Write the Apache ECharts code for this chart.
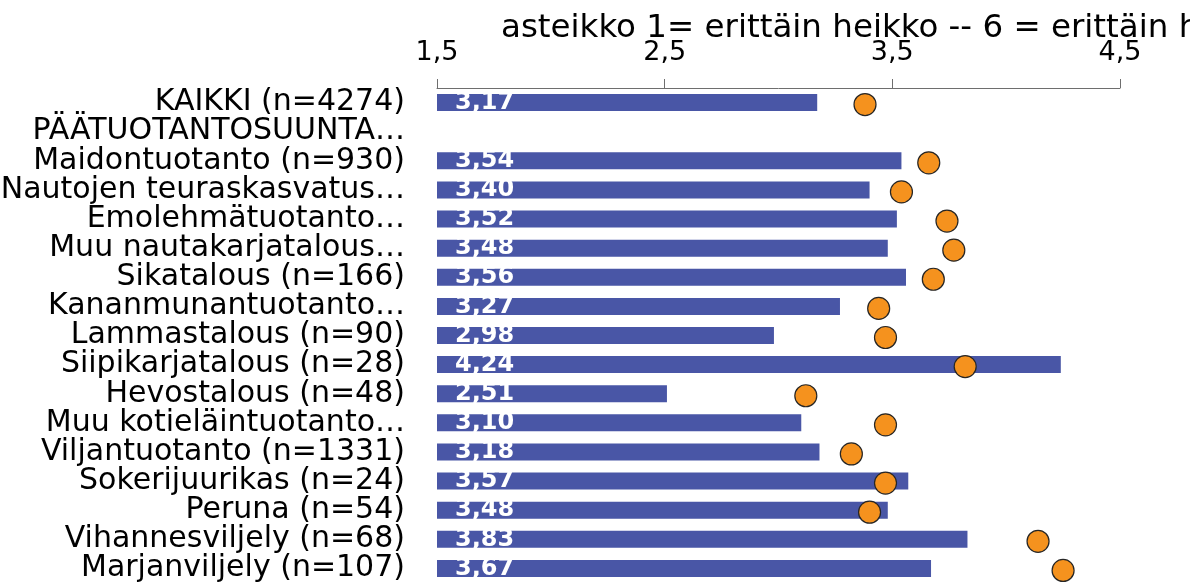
<!DOCTYPE html>
<html>
<head>
<meta charset="utf-8">
<script src="https://cdn.jsdelivr.net/npm/echarts@6/dist/echarts.min.js"></script>
<style>
  html, body { margin: 0; padding: 0; background: #fff; }
  #chart { width: 1190px; height: 584px; }
</style>
</head>
<body>
<div id="chart"></div>
<script>
const categories = [
    'KAIKKI (n=4274)',
    'PÄÄTUOTANTOSUUNTA…',
    'Maidontuotanto (n=930)',
    'Nautojen teuraskasvatus…',
    'Emolehmätuotanto…',
    'Muu nautakarjatalous…',
    'Sikatalous (n=166)',
    'Kananmunantuotanto…',
    'Lammastalous (n=90)',
    'Siipikarjatalous (n=28)',
    'Hevostalous (n=48)',
    'Muu kotieläintuotanto…',
    'Viljantuotanto (n=1331)',
    'Sokerijuurikas (n=24)',
    'Peruna (n=54)',
    'Vihannesviljely (n=68)',
    'Marjanviljely (n=107)'
];
// pylväät
const barValues = [3.17, null, 3.54, 3.40, 3.52, 3.48, 3.56, 3.27, 2.98, 4.24, 2.51, 3.10, 3.18, 3.57, 3.48, 3.83, 3.67];
// pallot
const dotValues = [3.38, null, 3.66, 3.54, 3.74, 3.77, 3.68, 3.44, 3.47, 3.82, 3.12, 3.47, 3.32, 3.47, 3.40, 4.14, 4.25];
const axisTicks = [1.5, 2.5, 3.5, 4.5];

const chart = echarts.init(document.getElementById('chart'));
chart.setOption({
    animation: false,
    title: {
        text: 'asteikko 1= erittäin heikko -- 6 = erittäin hyvä',
        left: 496,
        top: 7,
        textStyle: {
            fontFamily: 'DejaVu Sans',
            fontSize: 32.5,
            fontWeight: 'normal',
            color: '#000'
        }
    },
    grid: {
        left: 437,
        right: 70,
        top: 88,
        height: 495,
        outerBoundsMode: 'none'
    },
    xAxis: {
        type: 'value',
        position: 'top',
        min: axisTicks[0],
        max: axisTicks[axisTicks.length - 1],
        interval: 1,
        axisLine: { show: true, lineStyle: { color: '#6e6e6e', width: 1 } },
        axisTick: { show: true, length: 9, lineStyle: { color: '#6e6e6e' } },
        splitLine: { show: false },
        axisLabel: {
            margin: 22,
            fontSize: 27,
            fontFamily: 'DejaVu Sans',
            color: '#000',
            formatter: v => String(v).replace('.', ',')
        }
    },
    yAxis: {
        type: 'category',
        inverse: true,
        data: categories,
        axisLine: { show: false },
        axisTick: { show: false },
        axisLabel: {
            interval: 0,
            margin: 32,
            fontSize: 30,
            fontFamily: 'DejaVu Sans',
            color: '#000'
        }
    },
    series: [
        {
            type: 'bar',
            data: barValues,
            barWidth: 17,
            itemStyle: { color: '#4956A6' },
            label: {
                show: true,
                position: 'insideLeft',
                offset: [13, 0],
                color: '#fff',
                fontSize: 24,
                fontWeight: 'bold',
                fontFamily: 'DejaVu Sans',
                formatter: p => p.value.toFixed(2).replace('.', ',')
            }
        },
        {
            type: 'scatter',
            data: dotValues,
            symbolSize: 22,
            symbolOffset: [0, 2],
            z: 5,
            itemStyle: { color: '#F5921E', opacity: 1, borderColor: '#262626', borderWidth: 1.2 }
        }
    ]
});
</script>
</body>
</html>
